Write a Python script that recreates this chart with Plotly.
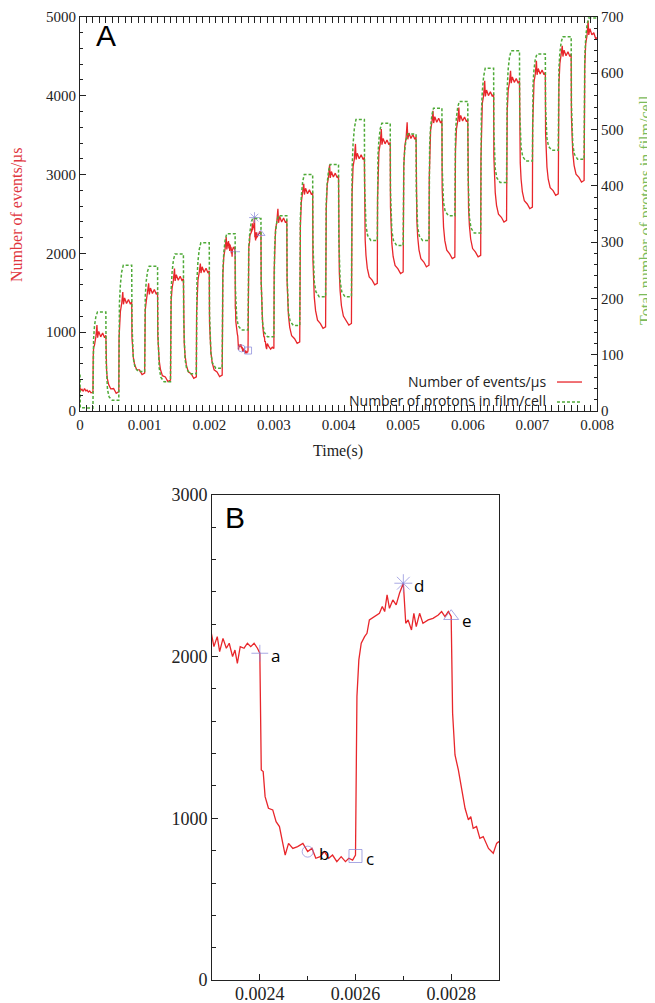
import plotly.graph_objects as go

# ---- data (time in microseconds) ----
RED_T_US = [
    0, 10, 30, 50, 70, 90, 110, 130, 150, 170, 190,
    200, 204, 210, 225, 245, 262, 272, 290, 320, 350, 380, 400, 404, 412, 425, 445, 475, 520, 560,
    600, 604, 610, 625, 645, 662, 672, 690, 720, 750, 780, 800, 804, 812, 825, 845, 875, 920, 960,
    1000, 1004, 1010, 1025, 1045, 1062, 1072, 1090, 1120, 1150, 1180, 1200, 1204, 1212, 1225, 1245, 1275, 1320, 1360,
    1400, 1404, 1410, 1425, 1445, 1462, 1472, 1490, 1520, 1550, 1580, 1600, 1604, 1612, 1625, 1645, 1675, 1720, 1760,
    1800, 1804, 1810, 1825, 1845, 1862, 1872, 1890, 1920, 1950, 1980, 2000, 2004, 2012, 2025, 2045, 2075, 2120, 2160,
    2200, 2204, 2210, 2225, 2245, 2262, 2272, 2285,
    2298, 2304, 2311, 2316, 2323, 2330, 2336, 2343, 2348, 2353, 2359, 2367, 2374, 2381, 2388, 2395,
    2400, 2403, 2407, 2411, 2418, 2427, 2434, 2441, 2448, 2453, 2460, 2469, 2479, 2490,
    2500, 2509, 2517, 2526, 2535, 2544, 2552, 2561, 2570, 2579, 2586, 2594,
    2600, 2603, 2607, 2612, 2619, 2624, 2629, 2640, 2650, 2656, 2661, 2666, 2671, 2678, 2685, 2692,
    2700, 2705, 2710, 2717, 2722, 2727, 2734, 2741, 2752, 2762, 2773, 2780, 2787, 2794,
    2800, 2803, 2808, 2815, 2822, 2829, 2836, 2841, 2846, 2853, 2860, 2867, 2878, 2888, 2895, 2899,
    2920, 2950, 2975,
    3000, 3004, 3010, 3025, 3045, 3062, 3072, 3090, 3120, 3150, 3180, 3200, 3204, 3212, 3225, 3245, 3275, 3320, 3360,
    3400, 3404, 3410, 3425, 3445, 3462, 3472, 3490, 3520, 3550, 3580, 3600, 3604, 3612, 3625, 3645, 3675, 3720, 3760,
    3800, 3804, 3810, 3825, 3845, 3862, 3872, 3890, 3920, 3950, 3980, 4000, 4004, 4012, 4025, 4045, 4075, 4120, 4160,
    4200, 4204, 4210, 4225, 4245, 4262, 4272, 4290, 4320, 4350, 4380, 4400, 4404, 4412, 4425, 4445, 4475, 4520, 4560,
    4600, 4604, 4610, 4625, 4645, 4662, 4672, 4690, 4720, 4750, 4780, 4800, 4804, 4812, 4825, 4845, 4875, 4920, 4960,
    5000, 5004, 5010, 5025, 5045, 5062, 5072, 5090, 5120, 5150, 5180, 5200, 5204, 5212, 5225, 5245, 5275, 5320, 5360,
    5400, 5404, 5410, 5425, 5445, 5462, 5472, 5490, 5520, 5550, 5580, 5600, 5604, 5612, 5625, 5645, 5675, 5720, 5760,
    5800, 5804, 5810, 5825, 5845, 5862, 5872, 5890, 5920, 5950, 5980, 6000, 6004, 6012, 6025, 6045, 6075, 6120, 6160,
    6200, 6204, 6210, 6225, 6245, 6262, 6272, 6290, 6320, 6350, 6380, 6400, 6404, 6412, 6425, 6445, 6475, 6520, 6560,
    6600, 6604, 6610, 6625, 6645, 6662, 6672, 6690, 6720, 6750, 6780, 6800, 6804, 6812, 6825, 6845, 6875, 6920, 6960,
    7000, 7004, 7010, 7025, 7045, 7062, 7072, 7090, 7120, 7150, 7180, 7200, 7204, 7212, 7225, 7245, 7275, 7320, 7360,
    7400, 7404, 7410, 7425, 7445, 7462, 7472, 7490, 7520, 7550, 7580, 7600, 7604, 7612, 7625, 7645, 7675, 7720, 7760,
    7800, 7804, 7810, 7825, 7845, 7862, 7872, 7890, 7920, 7950, 7980, 8000,
]
RED_EVENTS = [
    300, 260, 275, 250, 285, 255, 265, 240, 255, 230, 235,
    240, 672, 802, 840, 940, 1090, 930, 1010, 940, 990, 930, 960, 603, 495, 402, 331, 281, 285, 225,
    245, 928, 1133, 1264, 1364, 1510, 1354, 1434, 1364, 1414, 1354, 1384, 933, 797, 680, 589, 526, 521, 461,
    481, 1098, 1284, 1390, 1490, 1620, 1480, 1560, 1490, 1540, 1480, 1510, 951, 783, 638, 526, 448, 432, 372,
    392, 1165, 1397, 1560, 1660, 1806, 1650, 1730, 1660, 1710, 1650, 1680, 1057, 870, 708, 584, 496, 474, 414,
    434, 1242, 1484, 1660, 1760, 1870, 1750, 1830, 1760, 1810, 1750, 1780, 1118, 919, 747, 615, 522, 496, 436,
    456, 1430, 1723, 1960, 2060, 2207, 2050, 2130,
    2155, 2062, 2124, 2031, 2113, 2052, 2083, 2000, 2041, 1959, 2062, 2052, 2083, 2062, 2083, 2052,
    2021, 1299, 1289, 1134, 1062, 1052, 979, 949, 845, 773, 845, 814, 825, 845,
    794, 814, 753, 763, 794, 753, 773, 732, 763, 732, 753, 742,
    773, 1753, 1980, 2083, 2124, 2144, 2227, 2248, 2268, 2310, 2279, 2382, 2299, 2351, 2320, 2392,
    2454, 2206, 2227, 2165, 2268, 2186, 2268, 2206, 2227, 2237, 2258, 2279, 2248, 2279,
    2248, 1650, 1392, 1299, 1175, 1062, 990, 1010, 938, 949, 876, 887, 814, 784, 845, 855,
    820, 785, 810,
    794, 1768, 2061, 2298, 2398, 2566, 2388, 2468, 2398, 2448, 2388, 2418, 1647, 1416, 1216, 1062, 954, 917, 857,
    877, 2016, 2358, 2656, 2756, 2882, 2746, 2826, 2756, 2806, 2746, 2776, 1922, 1666, 1444, 1273, 1153, 1108, 1048,
    1068, 2220, 2566, 2868, 2968, 3127, 2958, 3038, 2968, 3018, 2958, 2988, 2049, 1767, 1523, 1335, 1204, 1150, 1090,
    1110, 2376, 2756, 3100, 3200, 3389, 3190, 3270, 3200, 3250, 3190, 3220, 2420, 2180, 1972, 1812, 1700, 1660, 1600,
    1620, 2693, 3015, 3289, 3389, 3579, 3379, 3459, 3389, 3439, 3379, 3409, 2587, 2340, 2126, 1961, 1846, 1804, 1744,
    1764, 2792, 3100, 3357, 3457, 3663, 3447, 3527, 3457, 3507, 3447, 3477, 2664, 2419, 2208, 2045, 1931, 1890, 1830,
    1850, 2950, 3281, 3564, 3664, 3810, 3654, 3734, 3664, 3714, 3654, 3684, 2819, 2559, 2334, 2161, 2040, 1993, 1933,
    1953, 3001, 3316, 3580, 3680, 3850, 3670, 3750, 3680, 3730, 3670, 3700, 2837, 2579, 2355, 2182, 2061, 2015, 1955,
    1975, 3203, 3572, 3902, 4002, 4190, 3992, 4072, 4002, 4052, 3992, 4022, 3220, 2979, 2771, 2610, 2498, 2458, 2398,
    2418, 3481, 3800, 4070, 4170, 4317, 4160, 4240, 4170, 4220, 4160, 4190, 3389, 3148, 2940, 2779, 2667, 2627, 2567,
    2587, 3612, 3920, 4176, 4276, 4444, 4266, 4346, 4276, 4326, 4266, 4296, 3526, 3295, 3095, 2941, 2833, 2796, 2736,
    2756, 3819, 4138, 4408, 4508, 4634, 4498, 4578, 4508, 4558, 4498, 4528, 3727, 3486, 3278, 3117, 3005, 2965, 2905,
    2925, 4039, 4373, 4662, 4762, 4950, 4772, 4852, 4772, 4800, 4720, 4740,
]

GREEN_T_US = [
    0, 4, 200,
    204, 210, 225, 245, 270, 400, 404, 412, 425, 450, 500,
    600, 604, 610, 625, 645, 670, 800, 804, 812, 825, 850, 900,
    1000, 1004, 1010, 1025, 1045, 1070, 1200, 1204, 1212, 1225, 1250, 1300,
    1400, 1404, 1410, 1425, 1445, 1470, 1600, 1604, 1612, 1625, 1650, 1700,
    1800, 1804, 1810, 1825, 1845, 1870, 2000, 2004, 2012, 2025, 2050, 2100,
    2200, 2204, 2210, 2225, 2245, 2270, 2400, 2404, 2412, 2425, 2450, 2500,
    2600, 2604, 2610, 2625, 2645, 2670, 2800, 2804, 2812, 2825, 2850, 2900,
    3000, 3004, 3010, 3025, 3045, 3070, 3200, 3204, 3212, 3225, 3250, 3300,
    3400, 3404, 3410, 3425, 3445, 3470, 3600, 3604, 3612, 3625, 3650, 3700,
    3800, 3804, 3810, 3825, 3845, 3870, 4000, 4004, 4012, 4025, 4050, 4100,
    4200, 4204, 4210, 4225, 4245, 4270, 4400, 4404, 4412, 4425, 4450, 4500,
    4600, 4604, 4610, 4625, 4645, 4670, 4800, 4804, 4812, 4825, 4850, 4900,
    5000, 5004, 5010, 5025, 5045, 5070, 5200, 5204, 5212, 5225, 5250, 5300,
    5400, 5404, 5410, 5425, 5445, 5470, 5600, 5604, 5612, 5625, 5650, 5700,
    5800, 5804, 5810, 5825, 5845, 5870, 6000, 6004, 6012, 6025, 6050, 6100,
    6200, 6204, 6210, 6225, 6245, 6270, 6400, 6404, 6412, 6425, 6450, 6500,
    6600, 6604, 6610, 6625, 6645, 6670, 6800, 6804, 6812, 6825, 6850, 6900,
    7000, 7004, 7010, 7025, 7045, 7070, 7200, 7204, 7212, 7225, 7250, 7300,
    7400, 7404, 7410, 7425, 7445, 7470, 7600, 7604, 7612, 7625, 7650, 7700,
    7800, 7804, 7810, 7825, 7845, 7870, 8000,
]
GREEN_PROTONS = [
    65, 6, 5,
    98, 128, 152, 167, 176, 176, 90, 58, 38, 25, 19,
    19, 151, 192, 225, 247, 259, 259, 155, 117, 93, 78, 70,
    70, 173, 205, 231, 248, 257, 257, 144, 103, 77, 60, 52,
    52, 177, 215, 247, 268, 279, 279, 162, 119, 92, 75, 66,
    66, 194, 234, 266, 287, 299, 299, 176, 132, 103, 85, 76,
    76, 207, 248, 282, 303, 315, 315, 221, 187, 165, 151, 144,
    144, 253, 287, 314, 332, 342, 342, 227, 185, 157, 140, 132,
    132, 250, 287, 317, 336, 347, 347, 240, 201, 175, 160, 152,
    152, 299, 345, 382, 407, 420, 420, 301, 257, 229, 212, 203,
    203, 332, 372, 405, 426, 438, 438, 309, 262, 231, 212, 203,
    203, 376, 430, 474, 502, 518, 518, 400, 357, 329, 312, 303,
    303, 417, 453, 482, 501, 511, 511, 392, 348, 320, 303, 294,
    294, 403, 437, 464, 482, 492, 492, 388, 350, 326, 311, 303,
    303, 432, 472, 505, 526, 538, 538, 433, 395, 370, 355, 347,
    347, 459, 493, 522, 540, 550, 550, 421, 375, 344, 325, 316,
    316, 477, 527, 568, 594, 609, 609, 497, 457, 430, 414, 406,
    406, 535, 574, 607, 628, 640, 640, 532, 493, 468, 452, 444,
    444, 549, 581, 607, 625, 634, 634, 540, 506, 484, 470, 463,
    463, 574, 608, 637, 655, 665, 665, 545, 502, 473, 456, 447,
    447, 585, 628, 663, 686, 698, 698,
]

MARK_T = [0.0024, 0.0025, 0.0026, 0.0027, 0.0028]
MARK_V = [2021, 794, 767, 2454, 2250]
MARK_LABELS = ["a", "b", "c", "d", "e"]
MARK_SYMBOLS = ["cross-thin-open", "circle-open", "square-open", "asterisk-open", "triangle-up-open"]

red_t = [t * 1e-6 for t in RED_T_US]
green_t = [t * 1e-6 for t in GREEN_T_US]

RED = "#e8262b"
GREEN = "#4faa38"
MARK = "#8585d8"
SERIF = "Liberation Serif"
SANS = "Open Sans"

fig = go.Figure()

# panel A
fig.add_trace(go.Scatter(x=red_t, y=RED_EVENTS, mode="lines", xaxis="x", yaxis="y",
                         line=dict(color=RED, width=1.3), showlegend=False))
fig.add_trace(go.Scatter(x=green_t, y=GREEN_PROTONS, mode="lines", xaxis="x", yaxis="y2",
                         line=dict(color=GREEN, width=1.5, dash="3px,2px"), showlegend=False))
fig.add_trace(go.Scatter(x=MARK_T, y=MARK_V, mode="markers", xaxis="x", yaxis="y",
                         marker=dict(symbol=MARK_SYMBOLS, size=[7, 7, 7, 9, 7], color=MARK,
                                     line=dict(color=MARK, width=1)),
                         showlegend=False))

# panel B
fig.add_trace(go.Scatter(x=red_t, y=RED_EVENTS, mode="lines", xaxis="x2", yaxis="y3",
                         line=dict(color=RED, width=1.3), showlegend=False))
fig.add_trace(go.Scatter(x=MARK_T, y=MARK_V, mode="markers", xaxis="x2", yaxis="y3",
                         marker=dict(symbol=MARK_SYMBOLS, size=[12, 11, 13, 15, 13], color=MARK,
                                     line=dict(color=MARK, width=1)),
                         showlegend=False))

axis_common = dict(showline=True, linecolor="#222", linewidth=1, ticks="inside",
                   tickcolor="#222", showgrid=False, zeroline=False, automargin=False)

# the page body adds an 8px offset, so the figure is 8px smaller than the window
fig.update_layout(
    width=647, height=995,
    margin=dict(l=0, r=0, t=0, b=0, autoexpand=False),
    paper_bgcolor="white", plot_bgcolor="white",
    xaxis=dict(axis_common, domain=[0.1113, 0.9104], range=[0, 0.008], dtick=0.001,
               ticklen=6, mirror="allticks", anchor="y",
               minor=dict(dtick=0.0001, ticks="inside", ticklen=3, tickcolor="#222"),
               tickfont=dict(family=SERIF, size=15, color="#222")),
    yaxis=dict(axis_common, domain=[0.5950, 0.9910], range=[0, 5000], dtick=1000,
               ticklen=6, mirror=True, anchor="x",
               minor=dict(dtick=200, ticks="inside", ticklen=3, tickcolor="#222"),
               tickfont=dict(family=SERIF, size=15, color="#222")),
    yaxis2=dict(axis_common, range=[0, 700], dtick=100, ticklen=6, side="right",
                overlaying="y", anchor="x",
                minor=dict(dtick=20, ticks="inside", ticklen=3, tickcolor="#222"),
                tickfont=dict(family=SERIF, size=15, color="#222")),
    xaxis2=dict(axis_common, domain=[0.3153, 0.7589], range=[0.0023, 0.0029],
                tickvals=[0.0024, 0.0026, 0.0028], ticktext=["0.0024", "0.0026", "0.0028"],
                ticklen=6, mirror=True, anchor="y3", ticklabelstandoff=-3,
                minor=dict(dtick=0.0001, ticks="inside", ticklen=4, tickcolor="#222"),
                tickfont=dict(family=SERIF, size=18, color="#222")),
    yaxis3=dict(axis_common, domain=[0.0231, 0.5106], range=[0, 3000], dtick=1000,
                ticklen=6, mirror=True, anchor="x2",
                minor=dict(dtick=200, ticks="inside", ticklen=4, tickcolor="#222"),
                tickfont=dict(family=SERIF, size=18, color="#222")),
)

annotations = [
    dict(text="Number of events/\u00b5s", x=0.0139, y=0.7930, textangle=-90,
         font=dict(family=SERIF, size=16, color="#e0353d")),
    dict(text="Total number of protons in film/cell", x=0.9861, y=0.7970, textangle=-90,
         font=dict(family=SERIF, size=16, color="#7cbb5a")),
    dict(text="Time(s)", x=0.5100, y=0.5548, font=dict(family=SERIF, size=16, color="#222")),
    dict(text="A", x=0.1515, y=0.9719, font=dict(family="Liberation Sans", size=30, color="black")),
    dict(text="B", x=0.3509, y=0.4884, font=dict(family="Liberation Sans", size=30, color="black")),
    dict(text="Number of events/\u00b5s", x=0.8346, y=0.6251, xanchor="right",
         font=dict(family=SANS, size=14, color="#222")),
    dict(text="Number of protons in film/cell", x=0.8346, y=0.6060, xanchor="right",
         font=dict(family=SANS, size=14, color="#222")),
]
for a in annotations:
    a.update(xref="paper", yref="paper", showarrow=False)
    a.setdefault("xanchor", "center")
    a.setdefault("yanchor", "middle")

for t, v, lab in zip(MARK_T, MARK_V, MARK_LABELS):
    annotations.append(dict(text=lab, x=t, y=v, xref="x2", yref="y3", xanchor="left",
                            yanchor="middle", xshift=9, yshift=-2 if lab != "e" else -4,
                            showarrow=False, font=dict(family=SANS, size=17, color="black")))

fig.update_layout(annotations=annotations)

# legend samples (drawn by hand so the sample sits right of the text)
fig.add_shape(type="line", xref="paper", yref="paper", x0=0.8485, x1=0.8872, y0=0.6241, y1=0.6241,
              line=dict(color=RED, width=1.3))
fig.add_shape(type="line", xref="paper", yref="paper", x0=0.8485, x1=0.8872, y0=0.6040, y1=0.6040,
              line=dict(color=GREEN, width=1.5, dash="3px,2px"))

fig.write_html("out.html")
